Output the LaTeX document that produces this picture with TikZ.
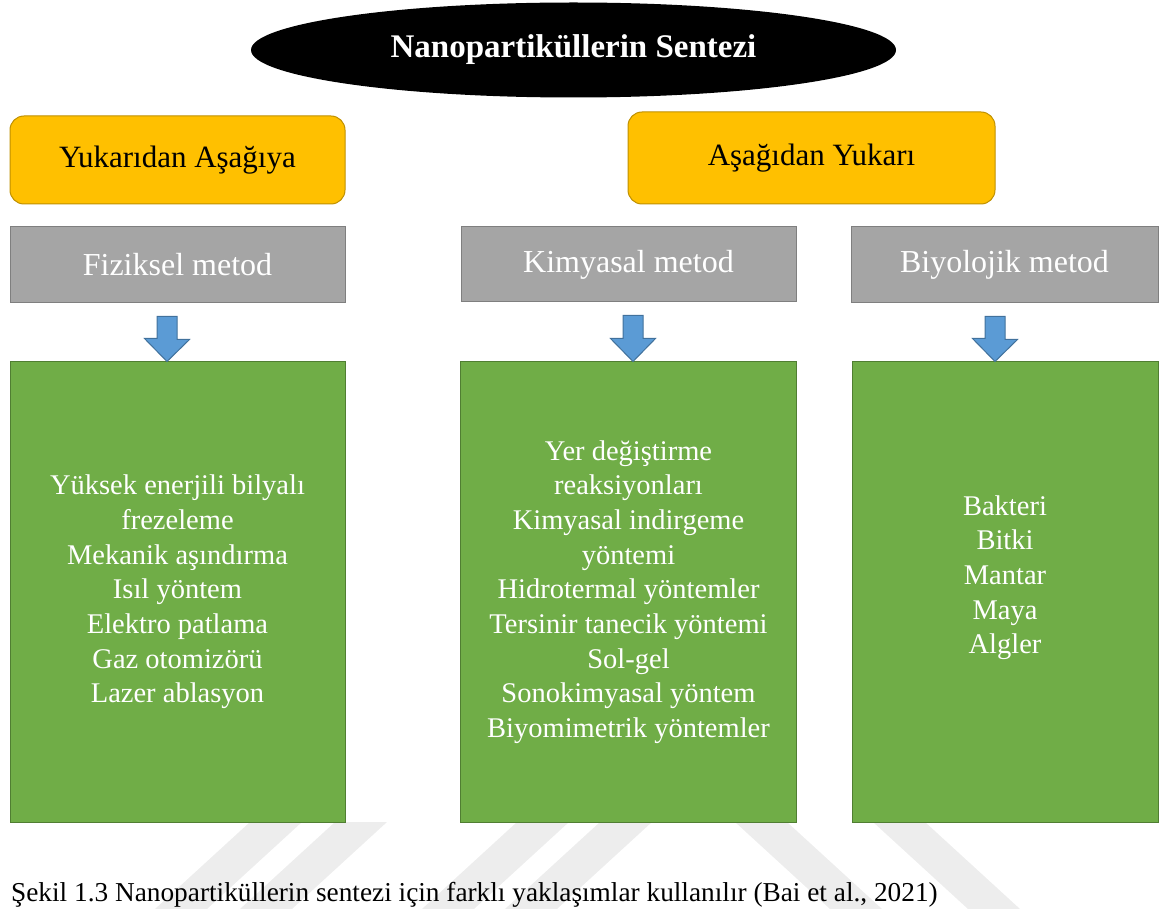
\documentclass[tikz,border=0pt]{standalone}
\usepackage{fontspec}
\setmainfont{Liberation Serif}
\usetikzlibrary{shapes.geometric,calc}

\definecolor{gold}{HTML}{FFC000}
\definecolor{golddark}{HTML}{BF9000}
\definecolor{metodgray}{HTML}{A5A5A5}
\definecolor{metodgraydark}{HTML}{7F7F7F}
\definecolor{listgreen}{HTML}{70AD47}
\definecolor{listgreendark}{HTML}{507E32}
\definecolor{arrowblue}{HTML}{5B9BD5}
\definecolor{arrowbluedark}{HTML}{41719C}
\definecolor{watermark}{HTML}{EDEDED}

\tikzset{
    approach/.style={draw=golddark, fill=gold, line width=1pt, rounded corners=14pt, inner sep=0pt, font=\fontsize{31}{37}\selectfont},
    metod/.style={draw=metodgraydark, fill=metodgray, text=white, line width=1pt, inner sep=0pt, font=\fontsize{32}{38}\selectfont},
    liste/.style={draw=listgreendark, fill=listgreen, text=white, line width=1pt, inner sep=0pt, align=center, font=\fontsize{28.5}{34.7}\selectfont},
    blockarrow/.style={draw=arrowbluedark, fill=arrowblue, line width=1pt},
}

\begin{document}
\begin{tikzpicture}[x=1pt,y=-1pt]
        \useasboundingbox (0,0) rectangle (1160,909);
        \clip (0,0) rectangle (1160,909);

        % watermark
        \foreach \x in {250,335,517,600}
            \fill[watermark] (\x,822) -- ++(52,0) -- ++(-95,87) -- ++(-52,0) -- cycle;
        \foreach \x in {735,873}
            \fill[watermark] (\x,822) -- ++(52,0) -- ++(95,87) -- ++(-52,0) -- cycle;

        % title
        \node[ellipse, fill=black, text=white, minimum width=645pt, minimum height=95pt, inner sep=0pt, font=\fontsize{33}{40}\selectfont\bfseries] at (573.5,50) (title) {Nanopartiküllerin Sentezi};

        % approaches
        \node[approach, minimum width=335pt, minimum height=88pt] at (177.5,160) (topdown) {Yukarıdan Aşağıya};
        \node[approach, minimum width=367pt, minimum height=92pt] at (811.5,158) (bottomup) {Aşağıdan Yukarı};

        % methods
        \node[metod, minimum width=335pt, minimum height=76pt] at (177.5,265) (fiz) {Fiziksel metod};
        \node[metod, minimum width=335pt, minimum height=75pt] at (628.5,264.5) (kim) {Kimyasal metod};
        \node[metod, minimum width=307pt, minimum height=76pt] at (1004.5,265) (biy) {Biyolojik metod};

        % lists
        \node[liste, minimum width=335pt, minimum height=460pt] at (177.5,592) (fizlist) {Yüksek enerjili bilyalı\\frezeleme\\Mekanik aşındırma\\Isıl yöntem\\Elektro patlama\\Gaz otomizörü\\Lazer ablasyon};
        \node[liste, minimum width=336pt, minimum height=460pt] at (628.5,592) (kimlist) {Yer değiştirme\\reaksiyonları\\Kimyasal indirgeme\\yöntemi\\Hidrotermal yöntemler\\Tersinir tanecik yöntemi\\Sol-gel\\Sonokimyasal yöntem\\Biyomimetrik yöntemler};
        \node[liste, minimum width=306pt, minimum height=460pt] at (1005,592) (biylist) {Bakteri\\Bitki\\Mantar\\Maya\\Algler\\~};

        % arrows
        \foreach \src/\dst/\x in {fiz/fizlist/167, kim/kimlist/633, biy/biylist/995} {
            \coordinate (\src arrow) at (\x,0);
            \draw[blockarrow] ($(\src arrow |- \src.south)+(-10,13)$) -- ++(20,0) -- ++(0,23) -- ++(12.5,0) -- (\src arrow |- \dst.north) -- ++(-22.5,-23) -- ++(12.5,0) -- cycle;
        }

        % caption
        \node[anchor=base west, inner sep=0pt, font=\fontsize{27.3}{33}\selectfont] at (11,901) (caption) {Şekil 1.3 Nanopartiküllerin sentezi için farklı yaklaşımlar kullanılır (Bai et al., 2021)};
    \end{tikzpicture}
\end{document}
